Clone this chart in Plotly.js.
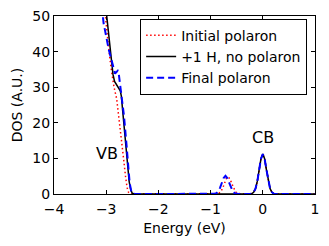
<!DOCTYPE html>
<html>
<head>
<meta charset="utf-8">
<script src="https://cdn.plot.ly/plotly-3.0.1.min.js"></script>
<style>html,body{margin:0;padding:0;background:#fff;}#chart{width:329px;height:246px;}</style>
</head>
<body>
<div id="chart"></div>
<script>
// Series names
var seriesNames = ["Initial polaron", "+1 H, no polaron", "Final polaron"];

// Initial polaron (red dotted)
var initialE =   [-3.10, -3.02, -2.96, -2.91, -2.85, -2.80, -2.75, -2.69, -2.66, -2.63, -2.60, -2.57, -2.54, -2.45,
                  -0.92, -0.875, -0.84, -0.805, -0.77, -0.735, -0.70, -0.665, -0.63, -0.595, -0.56, -0.525, -0.49, -0.455, -0.415,
                  -0.25, -0.21, -0.175, -0.14, -0.105, -0.07, -0.035, 0.0, 0.035, 0.07, 0.105, 0.14, 0.175, 0.21, 0.25, 1.0];
var initialDOS = [62, 50, 42, 35.7, 30, 26.8, 21, 13.7, 9, 5, 1.8, 0.4, 0, 0,
                  0, 0.05, 0.22, 0.66, 1.6, 3.0, 4.3, 4.8, 4.3, 3.0, 1.6, 0.66, 0.22, 0.05, 0,
                  0, 0.1, 0.5, 1.5, 3.6, 6.8, 9.9, 11.2, 9.9, 6.8, 3.6, 1.5, 0.5, 0.1, 0, 0];

// +1 H, no polaron (black solid)
var noPolE =   [-3.10, -2.99, -2.93, -2.87, -2.84, -2.80, -2.76, -2.73, -2.71, -2.67, -2.63, -2.59, -2.56, -2.53, -2.50, -2.46,
                -0.25, -0.21, -0.175, -0.14, -0.105, -0.07, -0.035, 0.0, 0.035, 0.07, 0.105, 0.14, 0.175, 0.21, 0.25, 1.0];
var noPolDOS = [65, 50, 41.5, 33.6, 31.6, 30.6, 29.9, 29.0, 27.5, 20.5, 13.7, 7.5, 3.5, 1.2, 0.2, 0,
                0, 0.1, 0.5, 1.5, 3.6, 6.8, 9.9, 11.2, 9.9, 6.8, 3.6, 1.5, 0.5, 0.1, 0, 0];

// Final polaron (blue dashed)
var finalE =   [-3.18, -3.07, -3.05, -2.95, -2.86, -2.83, -2.80, -2.78, -2.76, -2.74, -2.72, -2.70, -2.66, -2.61, -2.58, -2.55, -2.52, -2.49, -2.45,
                -0.965, -0.925, -0.89, -0.855, -0.82, -0.785, -0.75, -0.715, -0.68, -0.645, -0.61, -0.575, -0.54, -0.505, -0.465,
                -0.25, -0.21, -0.175, -0.14, -0.105, -0.07, -0.035, 0.0, 0.035, 0.07, 0.105, 0.14, 0.175, 0.21, 0.25, 1.0];
var finalDOS = [65, 50, 48, 40.5, 35.5, 33.8, 34.3, 34.6, 33.8, 31.5, 29.0, 26.5, 22, 13.7, 7.5, 3.0, 0.8, 0.1, 0,
                0, 0.06, 0.23, 0.7, 1.7, 3.2, 4.5, 5.1, 4.5, 3.2, 1.7, 0.7, 0.23, 0.06, 0,
                0, 0.1, 0.5, 1.5, 3.6, 6.8, 9.9, 11.2, 9.9, 6.8, 3.6, 1.5, 0.5, 0.1, 0, 0];

// Axis ticks
var xTicks = [-4, -3, -2, -1, 0, 1];
var yTicks = [0, 10, 20, 30, 40, 50];

// Band labels
var bandLabels = ["VB", "CB"];
var bandLabelE = [-2.99, 0.01];
var bandLabelDOS = [11.5, 16];

var FONT = "DejaVu Sans, Bitstream Vera Sans, sans-serif";

var traces = [
  {x: initialE, y: initialDOS, name: seriesNames[0], mode: "lines",
   line: {color: "#ff0000", width: 1.5, dash: "1.5px,2.5px"}},
  {x: noPolE, y: noPolDOS, name: seriesNames[1], mode: "lines",
   line: {color: "#000000", width: 1.5}},
  {x: finalE, y: finalDOS, name: seriesNames[2], mode: "lines",
   line: {color: "#0000ff", width: 2, dash: "7px,4px"}}
];

var annotations = bandLabels.map(function (t, i) {
  return {x: bandLabelE[i], y: bandLabelDOS[i], xref: "x", yref: "y", text: t,
          showarrow: false, font: {family: FONT, size: 16, color: "#000"}};
});

var axisCommon = {
  showline: true, linecolor: "#000", linewidth: 1, mirror: "allticks",
  ticks: "inside", ticklen: 4, tickwidth: 1, tickcolor: "#000",
  showgrid: false, zeroline: false,
  tickfont: {family: FONT, size: 14, color: "#000"}
};

var layout = {
  width: 329, height: 246,
  margin: {l: 54, r: 14, t: 16, b: 52},
  paper_bgcolor: "#fff", plot_bgcolor: "#fff",
  font: {family: FONT, size: 14, color: "#000"},
  showlegend: true,
  legend: {x: 0.33, y: 0.985, xanchor: "left", yanchor: "top",
           bgcolor: "#fff", bordercolor: "#000", borderwidth: 1,
           font: {family: FONT, size: 14, color: "#000"}},
  xaxis: Object.assign({}, axisCommon, {
    range: [-4, 1], tickvals: xTicks, ticklabelstandoff: 2,
    title: {text: "Energy (eV)", font: {family: FONT, size: 14, color: "#000"}, standoff: 7}
  }),
  yaxis: Object.assign({}, axisCommon, {
    range: [0, 50], tickvals: yTicks,
    title: {text: "DOS (A.U.)", font: {family: FONT, size: 14, color: "#000"}, standoff: 6}
  }),
  annotations: annotations
};

Plotly.newPlot("chart", traces, layout, {staticPlot: true, displayModeBar: false});
</script>
</body>
</html>
